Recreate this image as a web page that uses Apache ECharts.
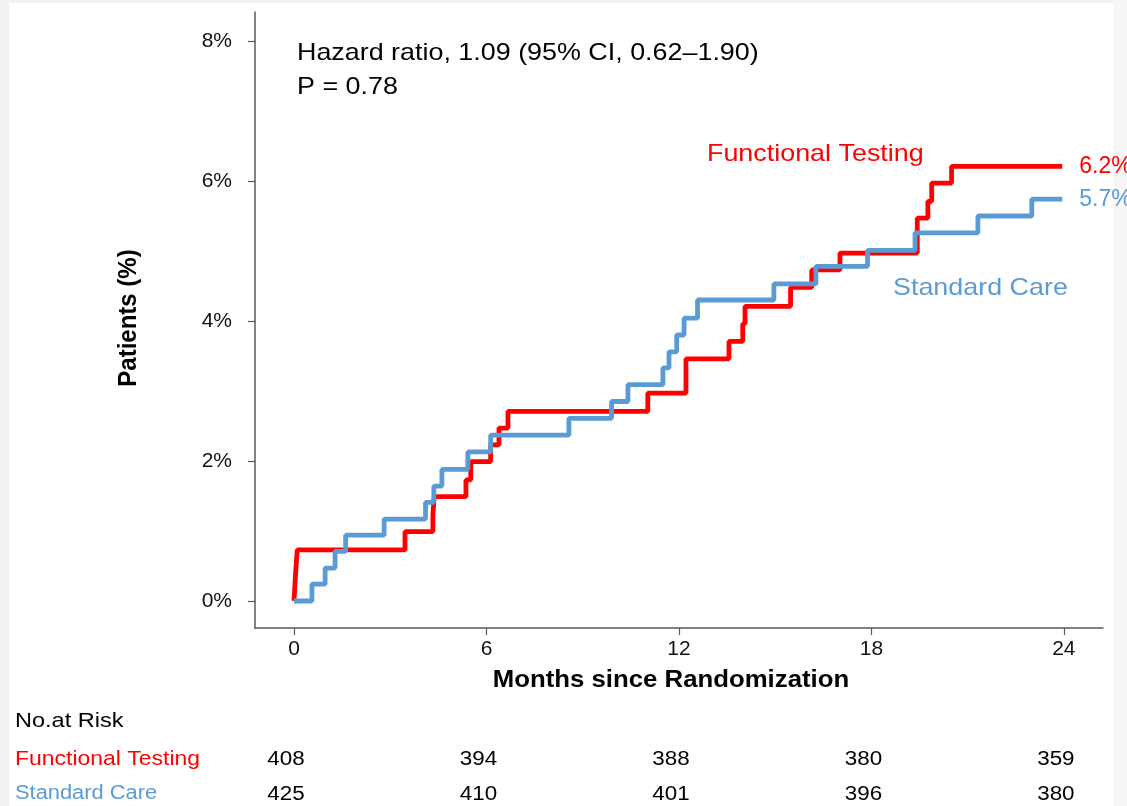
<!DOCTYPE html>
<html>
<head>
<meta charset="utf-8">
<script src="https://cdn.jsdelivr.net/npm/echarts@6/dist/echarts.min.js"></script>
<style>
  html, body { margin: 0; padding: 0; background: #ffffff; }
  #chart { width: 1127px; height: 806px; }
</style>
</head>
<body>
<div id="chart"></div>
<script>
// ---- data ----
const ftTimes  = [0, 0.03, 0.06, 0.1, 3.46, 4.33, 4.37, 5.36, 5.51, 6.13, 6.39, 6.67, 11.03, 12.22, 13.56, 13.99, 14.06, 15.48, 16.14, 17.02, 19.43, 19.76, 19.88, 20.5, 23.95];
const ftValues = [0, 0.24, 0.47, 0.73, 0.99, 1.23, 1.49, 1.73, 1.99, 2.23, 2.47, 2.71, 2.97, 3.46, 3.71, 3.96, 4.21, 4.48, 4.73, 4.97, 5.47, 5.71, 5.97, 6.21, 6.21];
const scTimes  = [0, 0.56, 0.97, 1.28, 1.61, 2.81, 4.1, 4.36, 4.61, 5.42, 6.13, 8.57, 9.9, 10.41, 11.5, 11.69, 11.93, 12.16, 12.58, 14.96, 16.27, 17.88, 19.36, 21.32, 23.0, 23.95];
const scValues = [0, 0.24, 0.47, 0.71, 0.94, 1.17, 1.41, 1.64, 1.88, 2.13, 2.37, 2.61, 2.85, 3.09, 3.33, 3.56, 3.80, 4.04, 4.30, 4.53, 4.78, 5.01, 5.26, 5.50, 5.74, 5.74];
const xTicks = [0, 6, 12, 18, 24];
const yTicks = [0, 2, 4, 6, 8];
const riskMonths = [0, 6, 12, 18, 24];
const riskFT = [408, 394, 388, 380, 359];
const riskSC = [425, 410, 401, 396, 380];
const seriesNames = ['Functional Testing', 'Standard Care'];
const annotation = ['Hazard ratio, 1.09 (95% CI, 0.62\u20131.90)', 'P = 0.78'];

const RED = '#ff0000';
const BLUE = '#5b9bd5';
const FONT = '"Liberation Sans", Arial, sans-serif';
const SX = 1.12;

const chart = echarts.init(document.getElementById('chart'));

const zip = (a, b) => a.map((v, i) => [v, b[i]]);

const option = {
  backgroundColor: '#ffffff',
  animation: false,
  grid: { left: 255, top: 12, right: 24, bottom: 178, containLabel: false },
  xAxis: {
    type: 'value', min: -1.216, max: 25.22,
    axisLine: { show: true, onZero: false, lineStyle: { color: '#5a5a5a', width: 1.5 } },
    axisTick: { show: true, customValues: xTicks, length: 7, lineStyle: { color: '#5a5a5a', width: 1.2 } },
    axisLabel: { customValues: xTicks, fontSize: 21, color: '#111', fontFamily: FONT, margin: 11 },
    splitLine: { show: false }
  },
  yAxis: {
    type: 'value', min: -0.386, max: 8.414,
    axisLine: { show: true, onZero: false, lineStyle: { color: '#5a5a5a', width: 1.5 } },
    axisTick: { show: true, customValues: yTicks, length: 7, lineStyle: { color: '#5a5a5a', width: 1.2 } },
    axisLabel: { customValues: yTicks, fontSize: 21, color: '#111', fontFamily: FONT, margin: 23, formatter: v => v + '%' },
    splitLine: { show: false }
  },
  series: [
    {
      name: seriesNames[0], type: 'line', step: 'end', showSymbol: false, symbol: 'none',
      data: zip(ftTimes, ftValues),
      lineStyle: { color: RED, width: 4.8 },
      itemStyle: { color: RED },
      endLabel: { show: true, distance: 17, fontSize: 23, fontFamily: FONT, color: RED,
        formatter: p => p.value[1].toFixed(1) + '%' },
      z: 2
    },
    {
      name: seriesNames[1], type: 'line', step: 'end', showSymbol: false, symbol: 'none',
      data: zip(scTimes, scValues),
      lineStyle: { color: BLUE, width: 4.8 },
      itemStyle: { color: BLUE },
      endLabel: { show: true, distance: 17, fontSize: 23, fontFamily: FONT, color: BLUE,
        formatter: p => p.value[1].toFixed(1) + '%' },
      z: 3
    }
  ]
};
chart.setOption(option);

function txt(text, x, y, opts) {
  return Object.assign({
    type: 'text', x: x, y: y, scaleX: SX, z: 10, silent: true,
    style: Object.assign({ text: text, fill: '#000', font: '24px ' + FONT, textAlign: 'left', textVerticalAlign: 'middle' }, opts && opts.style)
  }, opts && opts.el);
}

const graphics = [
  // page edges
  { type: 'rect', shape: { x: 0, y: 0, width: 1127, height: 3 }, style: { fill: '#f2f2f2' }, z: -10, silent: true },
  { type: 'rect', shape: { x: 0, y: 0, width: 9, height: 806 }, style: { fill: '#f2f2f2' }, z: -10, silent: true },
  { type: 'rect', shape: { x: 1114, y: 0, width: 13, height: 806 }, style: { fill: '#f6f6f6' }, z: -10, silent: true },
  // annotation
  txt(annotation[0], 297, 53),
  txt(annotation[1], 297, 87),
  // series labels
  txt(seriesNames[0], 707, 154, { style: { fill: RED } }),
  txt(seriesNames[1], 893, 288, { style: { fill: BLUE } }),
  // axis titles
  txt('Months since Randomization', 671, 681, { style: { font: 'bold 23px ' + FONT, textAlign: 'center' } }),
  { type: 'text', x: 129, y: 318, rotation: Math.PI / 2, scaleY: 1.1, z: 10, silent: true,
    style: { text: 'Patients (%)', fill: '#000', font: 'bold 24px ' + FONT, textAlign: 'center', textVerticalAlign: 'middle' } },
  // risk table
  txt('No.at Risk', 15, 721, { style: { font: '21px ' + FONT } }),
  txt(seriesNames[0], 15, 759, { style: { font: '20.5px ' + FONT, fill: RED } }),
  txt(seriesNames[1], 15, 794, { style: { font: '19.5px ' + FONT, fill: BLUE } })
];

riskMonths.forEach((m, i) => {
  const px = chart.convertToPixel({ gridIndex: 0 }, [m, 0])[0] - 8;
  graphics.push(txt(String(riskFT[i]), px, 759, { style: { font: '20px ' + FONT, textAlign: 'center' } }));
  graphics.push(txt(String(riskSC[i]), px, 794, { style: { font: '20px ' + FONT, textAlign: 'center' } }));
});

chart.setOption({ graphic: graphics });
</script>
</body>
</html>
